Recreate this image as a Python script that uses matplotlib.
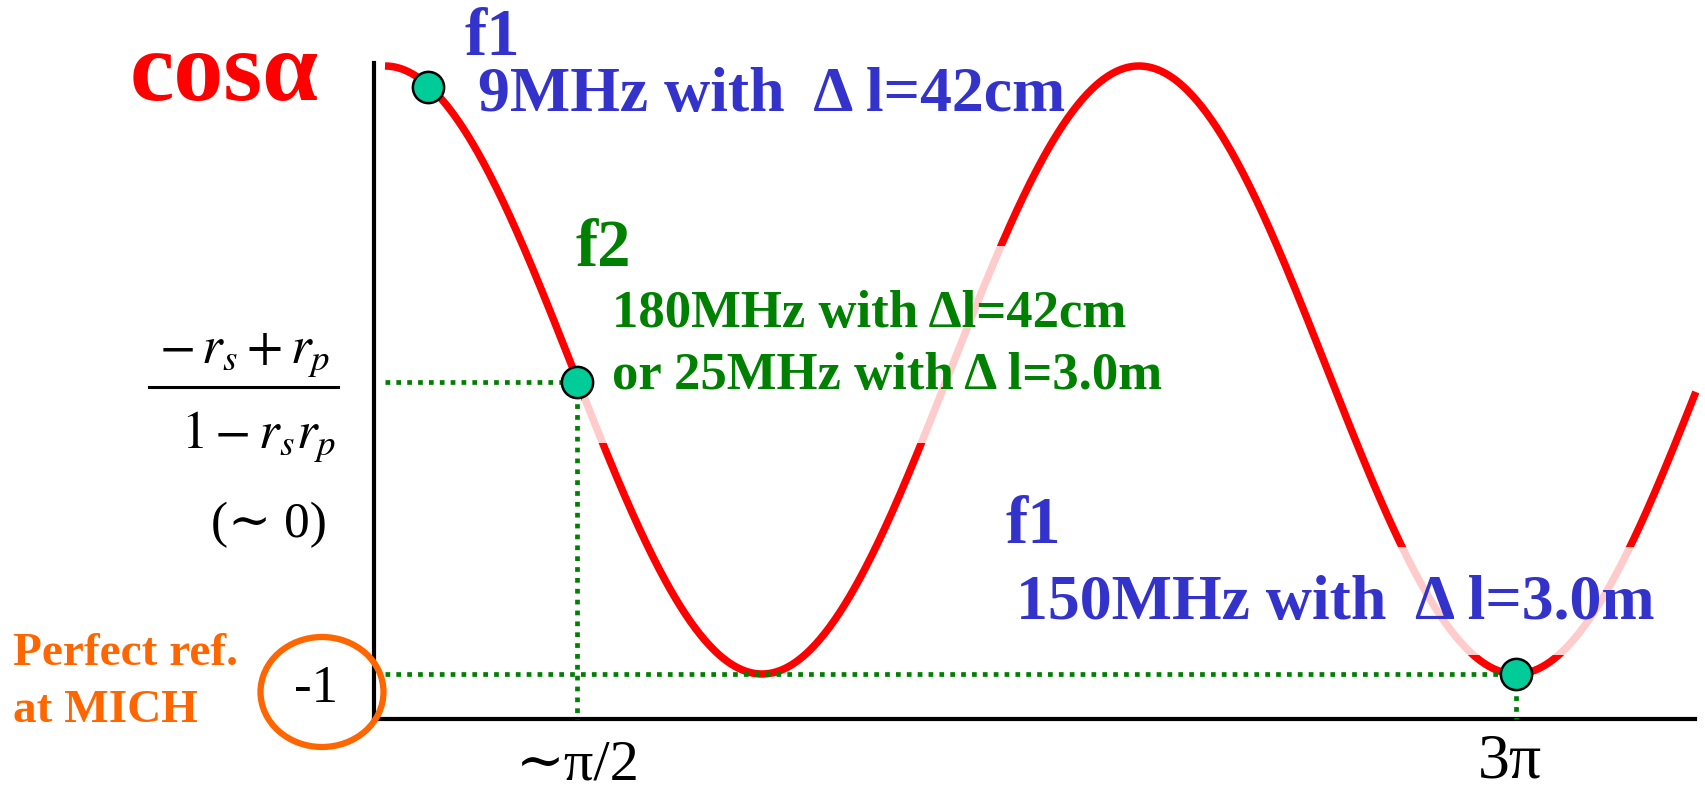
import numpy as np
import matplotlib
matplotlib.use('Agg')
import matplotlib.pyplot as plt
from matplotlib.patches import Rectangle, Ellipse

W, H = 1705, 792

# phase alpha in units of pi
phase_end = 3.477
phase = np.linspace(0, phase_end, 800)
curve = np.cos(np.pi * phase)

# operating points (phase in units of pi, cos value)
pt_phase = [0.115, 0.51, 3.0]
pt_value = [0.93, -0.04, -1.0]

RED = '#FF0000'
BLUE = '#3333CC'
GREEN = '#008000'
ORANGE = '#FF6600'
TEAL = '#00CC99'

plt.rcParams['font.family'] = ['Liberation Serif', 'DejaVu Serif']
plt.rcParams['mathtext.fontset'] = 'stix'


def fp(x, y):
    # pixel position -> figure fraction
    return x / W, 1 - y / H


fig = plt.figure(figsize=(W / 100, H / 100), dpi=100)

# plot area: left spine at x=374, bottom spine at y=719, top y=63, right end x=1695
ax = fig.add_axes([374 / W, 1 - 719 / H, (1695 - 374) / W, (719 - 63) / H])
ax.set_xlim((374 - 385) / 377, (1695 - 385) / 377)
ax.set_ylim((370 - 719) / 304, (370 - 63) / 304)
for s in ['top', 'right']:
    ax.spines[s].set_visible(False)
for s in ['left', 'bottom']:
    ax.spines[s].set_linewidth(3)
ax.set_xticks([])
ax.set_yticks([])
ax.patch.set_alpha(0)

ax.plot(phase, curve, color=RED, lw=5.4, solid_capstyle='butt', clip_on=False, zorder=2)

# translucent label backgrounds that wash out the curve
for (x0, y0, x1, y1) in [(582, 246, 1175, 443), (1005, 547, 1670, 655)]:
    ax.add_patch(Rectangle((x0 / W, 1 - y1 / H), (x1 - x0) / W, (y1 - y0) / H,
                           transform=fig.transFigure, facecolor='white', alpha=0.8,
                           edgecolor='none', clip_on=False, zorder=3))

# dotted guides to the axes
ybot = ax.get_ylim()[0]
dots = dict(color=GREEN, lw=3.4, dashes=(1.0, 1.3), zorder=4, clip_on=False)
for i in [1, 2]:
    ax.plot([0, pt_phase[i]], [pt_value[i], pt_value[i]], **dots)
    ax.plot([pt_phase[i], pt_phase[i]], [pt_value[i], ybot], **dots)

ax.plot(pt_phase, pt_value, 'o', ms=22.5, mfc=TEAL, mec='black', mew=1.8,
        ls='none', clip_on=False, zorder=5)

# y label
fig.text(*fp(130, 100), 'cosα', color=RED, fontsize=72, fontweight='bold',
         ha='left', va='baseline')

# annotations
bold = dict(fontweight='bold', ha='left', va='baseline', zorder=6)
fig.text(*fp(465, 55), 'f1', color=BLUE, fontsize=48, **bold)
fig.text(*fp(478, 111), '9MHz with  Δ l=42cm', color=BLUE, fontsize=46, **bold)
fig.text(*fp(576, 266), 'f2', color=GREEN, fontsize=48, **bold)
fig.text(*fp(612, 327), '180MHz with Δl=42cm', color=GREEN, fontsize=38, **bold)
fig.text(*fp(612, 389), 'or 25MHz with Δ l=3.0m', color=GREEN, fontsize=38, **bold)
fig.text(*fp(1005, 543), 'f1', color=BLUE, fontsize=48, **bold)
fig.text(*fp(1016, 619), '150MHz with  Δ l=3.0m', color=BLUE, fontsize=46, **bold)

# fraction on the y axis
fig.text(*fp(245, 363), r'$-\,r_s+r_p$', fontsize=38, ha='center', va='baseline')
fig.text(*fp(258, 448), r'$1-r_s r_p$', fontsize=38, ha='center', va='baseline')
fig.add_artist(plt.Line2D([149 / W, 338 / W], [1 - 387 / H, 1 - 387 / H],
                          color='black', lw=2.2))
fig.text(*fp(327, 537), '(∼ 0)', fontsize=37, ha='right', va='baseline')

# -1 with circle
fig.text(*fp(316, 702), '-1', fontsize=38, ha='center', va='baseline')
fig.add_artist(Ellipse(fp(322, 692), 123 / W, 110 / H, transform=fig.transFigure,
                       fill=False, edgecolor=ORANGE, lw=4.5))
fig.text(*fp(13, 665), 'Perfect ref.', color=ORANGE, fontsize=34, **bold)
fig.text(*fp(13, 722), 'at MICH', color=ORANGE, fontsize=34, **bold)

# x labels
fig.text(*fp(578, 792), '∼π/2', fontsize=42, ha='center', va='bottom')
fig.text(*fp(1510, 792), '3π', fontsize=46, ha='center', va='bottom')

fig.savefig('out.png', dpi=100, facecolor='white')
